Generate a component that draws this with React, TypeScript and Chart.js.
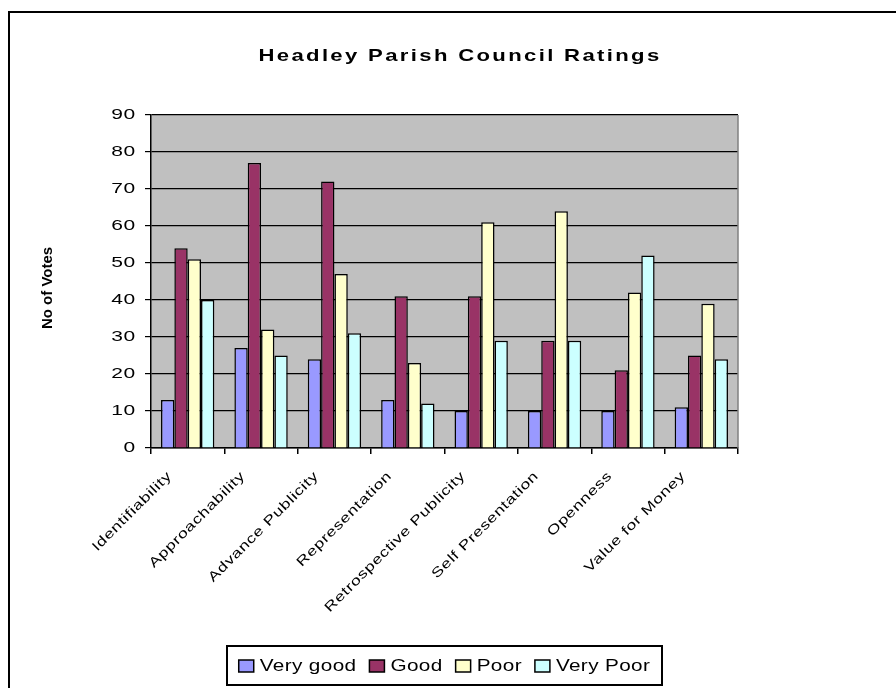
import React, { useEffect, useRef } from "react";
import { Chart, registerables } from "chart.js";

Chart.register(...registerables);

const chartTitle = "Headley Parish Council Ratings";
const yAxisTitle = "No of Votes";
const categories = [
  "Identifiability",
  "Approachability",
  "Advance Publicity",
  "Representation",
  "Retrospective Publicity",
  "Self Presentation",
  "Openness",
  "Value for Money",
];
const seriesNames = ["Very good", "Good", "Poor", "Very Poor"];
const veryGood = [13, 27, 24, 13, 10, 10, 10, 11];
const good = [54, 77, 72, 41, 41, 29, 21, 25];
const poor = [51, 32, 47, 23, 61, 64, 42, 39];
const veryPoor = [40, 25, 31, 12, 29, 29, 52, 24];
const yMin = 0;
const yMax = 90;
const yStep = 10;

const seriesColors = ["#9999FF", "#993366", "#FFFFCC", "#CCFFFF"];
const FONT = "'Liberation Sans', Arial, sans-serif";

type TextOpts = {
  font: string;
  sx?: number;
  ls?: number;
  align?: CanvasTextAlign;
  baseline?: CanvasTextBaseline;
  rot?: number;
};

// Text is drawn with a horizontal stretch along its own baseline (like a widened font).
function drawText(ctx: CanvasRenderingContext2D, text: string, x: number, y: number, o: TextOpts) {
  ctx.save();
  ctx.translate(x, y);
  if (o.rot) ctx.rotate(o.rot);
  ctx.scale(o.sx ?? 1, 1);
  ctx.font = o.font;
  (ctx as any).letterSpacing = (o.ls ?? 0) + "px";
  ctx.textAlign = o.align ?? "left";
  ctx.textBaseline = o.baseline ?? "alphabetic";
  ctx.fillStyle = "#000";
  ctx.fillText(text, 0, 0);
  ctx.restore();
}

function measure(ctx: CanvasRenderingContext2D, text: string, o: TextOpts) {
  ctx.save();
  ctx.font = o.font;
  (ctx as any).letterSpacing = (o.ls ?? 0) + "px";
  const w = ctx.measureText(text).width * (o.sx ?? 1);
  ctx.restore();
  return w;
}

const decorPlugin = {
  id: "decor",
  beforeDraw(chart: any) {
    const ctx: CanvasRenderingContext2D = chart.ctx;
    const a = chart.chartArea;
    ctx.save();
    ctx.fillStyle = "#FFFFFF";
    ctx.fillRect(0, 0, chart.width, chart.height);
    ctx.fillStyle = "#C0C0C0";
    ctx.fillRect(a.left, a.top, a.right - a.left, a.bottom - a.top);
    ctx.restore();
  },
  afterDraw(chart: any) {
    const ctx: CanvasRenderingContext2D = chart.ctx;
    const a = chart.chartArea;
    const xs = chart.scales.x;
    const ys = chart.scales.y;

    ctx.save();
    ctx.strokeStyle = "#808080";
    ctx.lineWidth = 1.5;
    ctx.beginPath();
    ctx.moveTo(a.right, a.top);
    ctx.lineTo(a.right, a.bottom);
    ctx.stroke();
    ctx.restore();

    ctx.save();
    ctx.strokeStyle = "#000";
    ctx.lineWidth = 2;
    ctx.strokeRect(9, 12, 900, 700);
    ctx.restore();

    drawText(ctx, chartTitle, 460, 61, {
      font: `bold 17px ${FONT}`,
      sx: 1.3,
      ls: 1.8,
      align: "center",
    });

    drawText(ctx, yAxisTitle, 47.5, 288, {
      font: `bold 15px ${FONT}`,
      ls: 0,
      align: "center",
      baseline: "middle",
      rot: -Math.PI / 2,
    });

    const tickOpts: TextOpts = {
      font: `14px ${FONT}`,
      sx: 1.5,
      ls: 0.5,
      align: "right",
      baseline: "middle",
    };
    ys.ticks.forEach((t: any) => {
      drawText(ctx, String(t.value), 136, ys.getPixelForValue(t.value), tickOpts);
    });

    categories.forEach((c, i) => {
      const x = xs.getPixelForValue(i);
      drawText(ctx, c, x - 18, a.bottom + 26, {
        font: `13.5px ${FONT}`,
        sx: 1.3,
        ls: 0.5,
        align: "right",
        baseline: "middle",
        rot: -Math.PI / 4,
      });
    });

    const lx0 = 227, lx1 = 662, ly0 = 646, ly1 = 685;
    ctx.save();
    ctx.fillStyle = "#FFFFFF";
    ctx.fillRect(lx0, ly0, lx1 - lx0, ly1 - ly0);
    ctx.strokeStyle = "#000";
    ctx.lineWidth = 2;
    ctx.strokeRect(lx0, ly0, lx1 - lx0, ly1 - ly0);
    ctx.restore();
    const legOpts: TextOpts = { font: `17px ${FONT}`, sx: 1.22, ls: 0.3, align: "left", baseline: "alphabetic" };
    const mW = 15, mH = 12, gapText = 6, gapItem = 13;
    const widths = seriesNames.map((n) => measure(ctx, n, legOpts));
    const total = widths.reduce((s, w) => s + mW + gapText + w, 0) + gapItem * (seriesNames.length - 1);
    let cx = (lx0 + lx1) / 2 - total / 2;
    seriesNames.forEach((n, i) => {
      ctx.save();
      ctx.fillStyle = seriesColors[i];
      ctx.fillRect(cx, 660, mW, mH);
      ctx.strokeStyle = "#000";
      ctx.lineWidth = 1.5;
      ctx.strokeRect(cx, 660, mW, mH);
      ctx.restore();
      drawText(ctx, n, cx + mW + gapText, 671, legOpts);
      cx += mW + gapText + widths[i] + gapItem;
    });
  },
};

export default function App() {
  const ref = useRef<HTMLCanvasElement | null>(null);
  useEffect(() => {
    if (!ref.current) return;
    const seriesData = [veryGood, good, poor, veryPoor];
    const chart = new Chart(ref.current, {
      type: "bar",
      data: {
        labels: categories,
        datasets: seriesNames.map((name, i) => ({
          label: name,
          data: seriesData[i],
          backgroundColor: seriesColors[i],
          borderColor: "#000000",
          borderWidth: 1.5,
          categoryPercentage: 0.727,
          barPercentage: 1.0,
        })),
      },
      options: {
        responsive: false,
        animation: false,
        devicePixelRatio: 1,
        events: [],
        layout: { padding: { left: 0, top: 115, right: 158, bottom: 0 } },
        plugins: {
          legend: { display: false },
          title: { display: false },
          tooltip: { enabled: false },
        },
        scales: {
          x: {
            ticks: { display: false },
            grid: {
              display: true,
              drawOnChartArea: false,
              drawTicks: true,
              tickLength: 6,
              color: "#000000",
              lineWidth: 1.5,
              offset: true,
            },
            border: { display: true, color: "#000000", width: 1.5 },
            afterFit: (s: any) => {
              s.height = 240;
            },
          },
          y: {
            min: yMin,
            max: yMax,
            ticks: { display: false, stepSize: yStep },
            grid: {
              display: true,
              drawOnChartArea: true,
              drawTicks: true,
              tickLength: 6,
              color: "#000000",
              lineWidth: 1.2,
            },
            border: { display: true, color: "#000000", width: 1.5 },
            afterFit: (s: any) => {
              s.width = 151;
            },
          },
        },
      },
      plugins: [decorPlugin],
    });
    return () => chart.destroy();
  }, []);
  return (
    <div style={{ position: "fixed", left: 0, top: 0, width: 896, height: 688 }}>
      <canvas ref={ref} width={896} height={688} style={{ display: "block" }} />
    </div>
  );
}
